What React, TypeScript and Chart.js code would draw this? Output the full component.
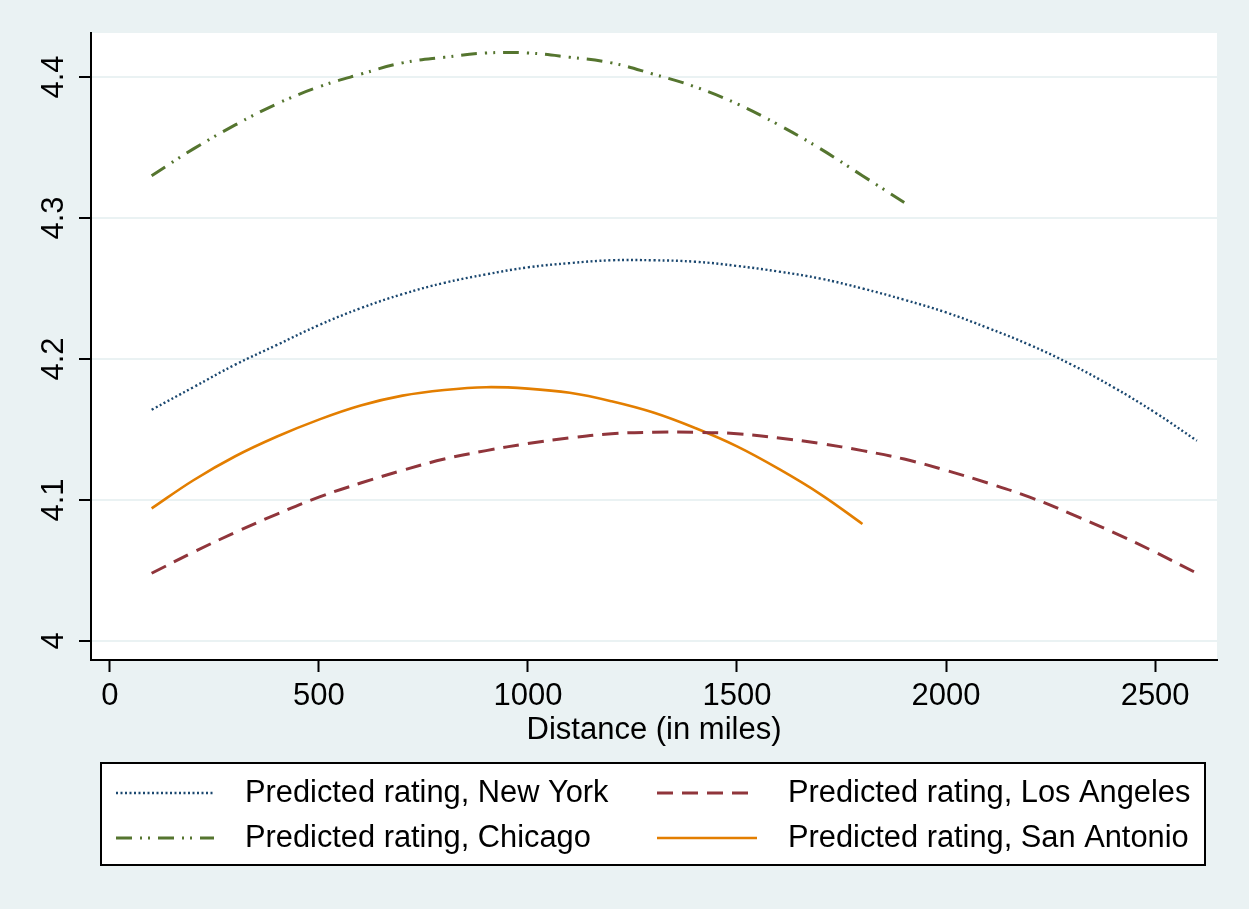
import React, { useEffect, useRef } from "react";
import { Chart, registerables } from "chart.js";

Chart.register(...registerables);

// ---------- data ----------
const distancesLong = [100, 200, 300, 400, 500, 600, 700, 800, 900, 1000, 1100, 1200, 1300, 1400, 1500, 1600, 1700, 1800, 1900, 2000, 2100, 2200, 2300, 2400, 2500, 2600];
const distancesChicago = [100, 200, 300, 400, 500, 600, 700, 800, 900, 1000, 1100, 1200, 1300, 1400, 1500, 1600, 1700, 1800, 1900];
const distancesSanAntonio = [100, 200, 300, 400, 500, 600, 700, 800, 900, 1000, 1100, 1200, 1300, 1400, 1500, 1600, 1700, 1800];

const newYork = [4.164, 4.180, 4.196, 4.210, 4.224, 4.236, 4.246, 4.254, 4.260, 4.265, 4.268, 4.270, 4.270, 4.269, 4.266, 4.262, 4.257, 4.250, 4.242, 4.233, 4.222, 4.210, 4.196, 4.180, 4.162, 4.142];
const losAngeles = [4.048, 4.063, 4.077, 4.090, 4.102, 4.112, 4.121, 4.129, 4.135, 4.140, 4.144, 4.147, 4.148, 4.148, 4.147, 4.144, 4.140, 4.135, 4.129, 4.121, 4.112, 4.102, 4.090, 4.077, 4.063, 4.048];
const chicago = [4.330, 4.349, 4.366, 4.381, 4.393, 4.402, 4.410, 4.414, 4.417, 4.417, 4.414, 4.410, 4.402, 4.393, 4.381, 4.366, 4.349, 4.330, 4.311];
const sanAntonio = [4.094, 4.114, 4.131, 4.145, 4.157, 4.167, 4.174, 4.178, 4.180, 4.179, 4.176, 4.170, 4.162, 4.151, 4.138, 4.122, 4.104, 4.083];

const xTickValues = [0, 500, 1000, 1500, 2000, 2500];
const yTickValues = [4, 4.1, 4.2, 4.3, 4.4];

const seriesLabels = [
  "Predicted rating, New York",
  "Predicted rating, Los Angeles",
  "Predicted rating, Chicago",
  "Predicted rating, San Antonio",
];
const xAxisTitle = "Distance (in miles)";

// ---------- styles ----------
const FONT = "'Liberation Sans', Arial, sans-serif";
const BG = "#eaf2f3";
const colors = ["#1a476f", "#90353b", "#55752f", "#e37e00"];
const dashes = [[2, 2.5], [16, 9], [16, 8, 2, 6, 2, 8], []];
const widths = [2.4, 3, 3, 2.6];

const pts = (xs: number[], ys: number[]) => xs.map((x, i) => ({ x, y: ys[i] }));

const bgPlugin = {
  id: "stataBg",
  beforeDraw(chart: any) {
    const { ctx, width, height, chartArea } = chart;
    ctx.save();
    ctx.fillStyle = BG;
    ctx.fillRect(0, 0, width, height);
    ctx.fillStyle = "#ffffff";
    ctx.fillRect(chartArea.left, chartArea.top, chartArea.right - chartArea.left, chartArea.bottom - chartArea.top);
    ctx.restore();
  },
};

const legendPlugin = {
  id: "stataLegend",
  afterDraw(chart: any) {
    const { ctx } = chart;
    const box = { x: 101, y: 763, w: 1104, h: 102 };
    ctx.save();
    ctx.fillStyle = "#ffffff";
    ctx.fillRect(box.x, box.y, box.w, box.h);
    ctx.strokeStyle = "#000000";
    ctx.lineWidth = 2;
    ctx.strokeRect(box.x, box.y, box.w, box.h);
    const cols = [
      { lx0: 116, lx1: 214, tx: 245 },
      { lx0: 657, lx1: 757, tx: 788 },
    ];
    const rows = [793, 838];
    chart.data.datasets.forEach((ds: any, i: number) => {
      const c = cols[i % 2];
      const ry = rows[Math.floor(i / 2)];
      ctx.beginPath();
      ctx.strokeStyle = ds.borderColor;
      ctx.lineWidth = ds.borderWidth;
      ctx.setLineDash(ds.borderDash || []);
      ctx.moveTo(c.lx0, ry);
      ctx.lineTo(c.lx1, ry);
      ctx.stroke();
      ctx.setLineDash([]);
      ctx.fillStyle = "#000000";
      ctx.font = `30.8px ${FONT}`;
      ctx.textBaseline = "middle";
      ctx.textAlign = "left";
      ctx.fillText(ds.label, c.tx, ry + 1);
    });
    ctx.restore();
  },
};

export default function App() {
  const ref = useRef<HTMLCanvasElement | null>(null);

  useEffect(() => {
    document.body.style.margin = "0";
    const canvas = ref.current;
    if (!canvas) return;
    const seriesX = [distancesLong, distancesLong, distancesChicago, distancesSanAntonio];
    const seriesY = [newYork, losAngeles, chicago, sanAntonio];
    const chart = new Chart(canvas, {
      type: "line",
      data: {
        datasets: seriesLabels.map((label, i) => ({
          label,
          data: pts(seriesX[i], seriesY[i]),
          borderColor: colors[i],
          backgroundColor: colors[i],
          borderWidth: widths[i],
          borderDash: dashes[i],
          pointRadius: 0,
          tension: 0.4,
          fill: false,
        })),
      },
      options: {
        responsive: false,
        animation: false,
        devicePixelRatio: 1,
        layout: { padding: { top: 33, right: 32, bottom: 159, left: 0 } },
        plugins: {
          legend: { display: false },
          tooltip: { enabled: false },
        },
        scales: {
          x: {
            type: "linear",
            min: -45,
            max: 2648,
            afterFit: (s: any) => { s.height = 90; },
            afterBuildTicks: (s: any) => { s.ticks = xTickValues.map((v) => ({ value: v })); },
            ticks: {
              autoSkip: false,
              maxRotation: 0,
              padding: 6,
              color: "#000",
              font: { family: FONT, size: 31 },
              callback: (v: any) => String(v),
            },
            grid: {
              display: true,
              drawOnChartArea: false,
              drawTicks: true,
              tickLength: 12,
              tickColor: "#000",
              tickWidth: 2,
            },
            border: { display: true, color: "#000", width: 2 },
            title: {
              display: true,
              text: xAxisTitle,
              color: "#000",
              font: { family: FONT, size: 31 },
              padding: { top: 0, bottom: 1 },
            },
          },
          y: {
            type: "linear",
            min: 3.9865,
            max: 4.4312,
            afterFit: (s: any) => { s.width = 91; },
            afterBuildTicks: (s: any) => { s.ticks = yTickValues.map((v) => ({ value: v })); },
            ticks: {
              autoSkip: false,
              minRotation: 90,
              maxRotation: 90,
              crossAlign: "center",
              padding: 3,
              color: "#000",
              font: { family: FONT, size: 31 },
              callback: (v: any) => String(Number(Number(v).toFixed(1))),
            },
            grid: {
              color: BG,
              lineWidth: 2,
              drawTicks: true,
              tickLength: 12,
              tickColor: "#000",
              tickWidth: 2,
            },
            border: { display: true, color: "#000", width: 2 },
          },
        },
      },
      plugins: [bgPlugin, legendPlugin],
    } as any);
    return () => chart.destroy();
  }, []);

  return <canvas ref={ref} width={1249} height={909} style={{ display: "block", width: 1249, height: 909 }} />;
}
